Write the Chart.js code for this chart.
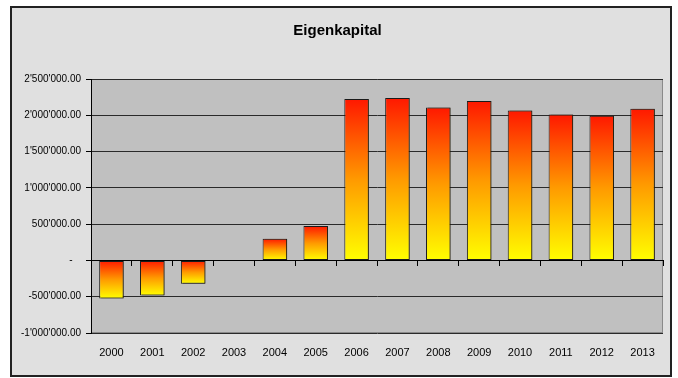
<!DOCTYPE html>
<html>
<head>
<meta charset="utf-8">
<script src="https://cdn.jsdelivr.net/npm/chart.js@4"></script>
<style>
  html, body { margin: 0; padding: 0; background: #fff; }
  #wrap { width: 678px; height: 378px; }
</style>
</head>
<body>
<div id="wrap"><canvas id="c" width="678" height="378"></canvas></div>
<script>
// Eigenkapital per year (CHF)
const years = ['2000', '2001', '2002', '2003', '2004', '2005', '2006', '2007', '2008', '2009', '2010', '2011', '2012', '2013'];
const equity = [-525000, -483000, -322000, 0, 300000, 474000, 2224000, 2238000, 2109000, 2196000, 2067000, 2012000, 1993000, 2090000];
const yMin = -1000000;
const yMax = 2500000;
const yStep = 500000;

const FONT = "'Liberation Sans Narrow', 'Liberation Sans', Arial, sans-serif";

// Swiss accounting style: 2'500'000.00, zero shown as a dash
function formatAmount(v) {
  if (v === 0) return '-   ';
  const neg = v < 0;
  const parts = Math.abs(v).toFixed(2).split('.');
  const intPart = parts[0].replace(/\B(?=(\d{3})+(?!\d))/g, "'");
  return (neg ? '-' : '') + intPart + '.' + parts[1];
}

// Red at the top of each bar fading to yellow at the bottom
function barGradient(ctx) {
  const chart = ctx.chart;
  if (!chart.chartArea || ctx.type !== 'data') return '#ff8000';
  const ys = chart.scales.y;
  const v = ctx.parsed ? ctx.parsed.y : equity[ctx.dataIndex];
  const p0 = ys.getPixelForValue(0);
  const pv = ys.getPixelForValue(v);
  const top = Math.min(p0, pv);
  const bottom = Math.max(p0, pv);
  if (bottom - top < 1) return '#ff8000';
  const g = chart.ctx.createLinearGradient(0, top, 0, bottom);
  g.addColorStop(0, '#ff1800');
  g.addColorStop(0.5, '#ff9a00');
  g.addColorStop(1, '#ffff00');
  return g;
}

const framePlugin = {
  id: 'frame',
  beforeDraw(chart) {
    const c = chart.ctx;
    const a = chart.chartArea;
    c.save();
    c.fillStyle = '#ffffff';
    c.fillRect(0, 0, chart.width, chart.height);
    c.fillStyle = '#e0e0e0';
    c.fillRect(11, 7, 660, 369);
    c.strokeStyle = '#222222';
    c.lineWidth = 2;
    c.strokeRect(11, 7, 660, 369);
    c.fillStyle = '#c0c0c0';
    c.fillRect(a.left, a.top, a.right - a.left, a.bottom - a.top);
    c.strokeStyle = '#8a8a8a';
    c.lineWidth = 1;
    c.strokeRect(a.left + 0.5, a.top + 0.5, a.right - a.left - 1, a.bottom - a.top - 1);
    c.restore();
  },
  beforeDatasetsDraw(chart) {
    const c = chart.ctx;
    c.save();
    c.shadowColor = 'rgba(40, 30, 0, 0.55)';
    c.shadowOffsetX = 2;
    c.shadowOffsetY = 0;
    c.shadowBlur = 0;
  },
  afterDatasetsDraw(chart) {
    chart.ctx.restore();
  }
};

new Chart(document.getElementById('c'), {
  type: 'bar',
  data: {
    labels: years,
    datasets: [{
      label: 'Eigenkapital',
      data: equity,
      backgroundColor: barGradient,
      borderColor: '#1a1a1a',
      borderWidth: 1,
      borderSkipped: false,
      barPercentage: 0.6,
      categoryPercentage: 1.0
    }]
  },
  options: {
    responsive: false,
    animation: false,
    devicePixelRatio: 1,
    layout: { padding: { left: 12, right: 15, top: 0, bottom: 15 } },
    plugins: {
      legend: { display: false },
      tooltip: { enabled: false },
      title: {
        display: true,
        text: 'Eigenkapital',
        color: '#000',
        font: { family: "'Liberation Sans', Arial, sans-serif", size: 15, weight: 'bold', lineHeight: 1.2 },
        padding: { top: 22, bottom: 39 }
      }
    },
    scales: {
      x: {
        type: 'category',
        position: 'bottom',
        grid: { display: false, drawTicks: false },
        border: { display: false },
        ticks: { color: '#000', font: { family: FONT, size: 11 }, padding: 13, maxRotation: 0 },
        afterFit(scale) { scale.height = 30; }
      },
      x2: {
        type: 'category',
        axis: 'x',
        position: { y: 0 },
        offset: true,
        grid: { offset: true, drawOnChartArea: false, drawTicks: true, tickLength: 5, tickColor: '#000', tickWidth: 1 },
        border: { display: true, color: '#000', width: 1 },
        ticks: { display: false }
      },
      y: {
        min: yMin,
        max: yMax,
        grid: { color: '#2a2a2a', lineWidth: 1, drawTicks: true, tickLength: 5, tickColor: '#000' },
        border: { display: true, color: '#000', width: 1 },
        ticks: {
          stepSize: yStep,
          color: '#000',
          font: { family: FONT, size: 10 },
          padding: 5,
          callback: (v) => formatAmount(v)
        },
        afterFit(scale) { scale.width = 79; }
      }
    }
  },
  plugins: [framePlugin]
});
</script>
</body>
</html>
